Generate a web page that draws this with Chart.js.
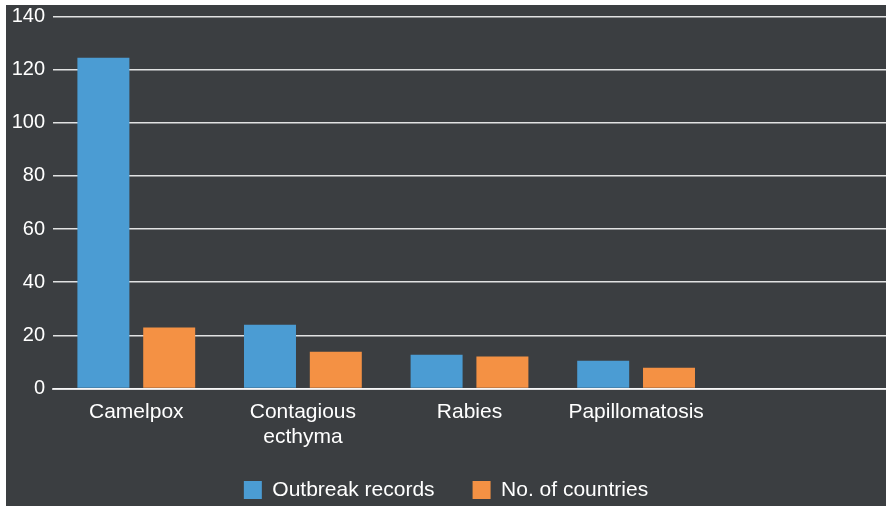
<!DOCTYPE html>
<html>
<head>
<meta charset="utf-8">
<script src="https://cdn.jsdelivr.net/npm/chart.js@4"></script>
<style>
    html, body { margin: 0; padding: 0; background: #ffffff; }
    #panel {
        position: absolute;
        left: 6px;
        top: 5px;
        width: 880px;
        height: 501px;
        background: #3b3e41;
    }
</style>
</head>
<body>
<div id="panel"><canvas id="chart" width="880" height="501"></canvas></div>
<script>
const categories = ['Camelpox', ['Contagious', 'ecthyma'], 'Rabies', 'Papillomatosis', ''];
const outbreakRecords = [124.5, 24, 12.7, 10.4, null];
const countries = [23, 13.8, 12, 7.8, null];
const yTicks = [0, 20, 40, 60, 80, 100, 120, 140];

const fontFamily = '"Liberation Sans", Arial, Helvetica, sans-serif';

// let the two-line category label spill below the x axis box
const unclipLabels = {
    id: 'unclipLabels',
    afterLayout(chart) {
        chart.scales.x.bottom = chart.height;
    }
};

new Chart(document.getElementById('chart'), {
    type: 'bar',
    data: {
        labels: categories,
        datasets: [
            {
                label: 'Outbreak records',
                data: outbreakRecords,
                backgroundColor: '#4b9cd3',
                categoryPercentage: 0.79,
                barPercentage: 0.79
            },
            {
                label: 'No. of countries',
                data: countries,
                backgroundColor: '#f49144',
                categoryPercentage: 0.79,
                barPercentage: 0.79
            }
        ]
    },
    plugins: [unclipLabels],
    options: {
        responsive: false,
        animation: false,
        layout: { padding: { top: 11.5, right: 0, bottom: -4.5, left: 0 } },
        plugins: {
            tooltip: { enabled: false },
            legend: {
                position: 'bottom',
                labels: {
                    color: '#ffffff',
                    font: { family: fontFamily, size: 21 },
                    boxWidth: 18,
                    boxHeight: 18,
                    padding: 38
                }
            }
        },
        scales: {
            x: {
                z: 1,
                grid: { display: false, drawTicks: false },
                border: { display: true, color: 'rgba(255,255,255,0.7)', width: 2 },
                ticks: {
                    color: '#ffffff',
                    padding: 11,
                    maxRotation: 0,
                    autoSkip: false,
                    font: { family: fontFamily, size: 21, lineHeight: 1.2 }
                },
                afterFit: (scale) => {
                    scale.height = 53;
                    scale.paddingTop = 0;
                    scale.paddingBottom = 0;
                }
            },
            y: {
                min: 0,
                max: 140,
                afterBuildTicks: (scale) => { scale.ticks = yTicks.map(v => ({ value: v })); },
                grid: { color: 'rgba(255,255,255,0.85)', lineWidth: 1.5, drawTicks: false },
                border: { display: false },
                ticks: {
                    color: '#ffffff',
                    padding: 8,
                    font: { family: fontFamily, size: 20 }
                },
                afterFit: (scale) => {
                    scale.width = 47;
                    scale.paddingTop = 0;
                    scale.paddingBottom = 0;
                }
            }
        }
    }
});
</script>
</body>
</html>
